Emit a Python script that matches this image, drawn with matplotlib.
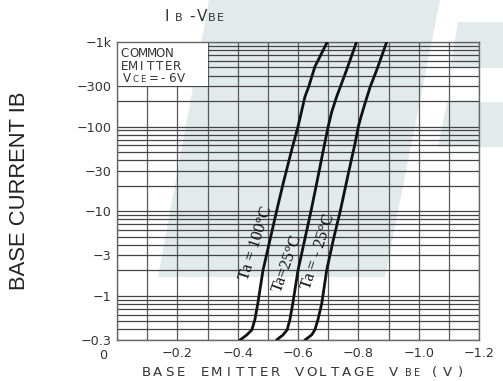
import numpy as np
import matplotlib
matplotlib.use("Agg")
import matplotlib.pyplot as plt
from matplotlib.patches import Polygon, Rectangle

W, H = 503, 381

# base-emitter voltage (V) and base current magnitude for each ambient temp
vbe_100 = [-0.408, -0.430, -0.447, -0.457, -0.467, -0.484, -0.529, -0.551,
           -0.579, -0.600, -0.623, -0.636, -0.656, -0.697]
ib_100 = [0.3, 0.344, 0.395, 0.52, 0.82, 2.0, 10, 21.4, 52.8, 100, 225, 300, 511, 1000]

vbe_25 = [-0.529, -0.550, -0.564, -0.573, -0.583, -0.600, -0.643, -0.662,
          -0.684, -0.700, -0.712, -0.728, -0.741, -0.761, -0.794]
ib_25 = [0.3, 0.344, 0.395, 0.52, 0.82, 2.0, 10, 21.4, 52.8, 100, 150, 225, 300, 467, 1000]

vbe_m25 = [-0.623, -0.645, -0.656, -0.666, -0.679, -0.695, -0.717, -0.740,
           -0.767, -0.789, -0.800, -0.809, -0.822, -0.840, -0.861, -0.894]
ib_m25 = [0.3, 0.344, 0.395, 0.52, 0.82, 2.0, 4.58, 10, 28, 63, 100, 131, 188, 300, 467, 1000]

curve_labels = ["Ta = 100°C", "Ta=25°C", "Ta = - 25°C"]

x_ticks = [-0.2, -0.4, -0.6, -0.8, -1.0, -1.2]
x_tick_labels = ["−0.2", "−0.4", "−0.6", "−0.8", "−1.0", "−1.2"]
y_ticks = [1000, 300, 100, 30, 10, 3, 1, 0.3]
y_tick_labels = ["−1k", "−300", "−100", "−30", "−10", "−3", "−1", "−0.3"]

TXT = "#333333"
WM = "#e2eaec"

fig = plt.figure(figsize=(W / 100, H / 100), dpi=100)
fig.patch.set_facecolor("white")


def px(x, y):
    """pixel coords (origin top-left) -> figure fraction"""
    return x / W, 1 - y / H


# ── watermark logo behind the chart ──────────────────────────────────────────
for verts in ([(209, 0), (440, 0), (385, 277), (158, 277)],
              [(458, 22), (503, 22), (503, 68), (450, 68)],
              [(447, 102), (503, 102), (503, 147), (438, 147)]):
    fig.patches.append(Polygon([px(*v) for v in verts], closed=True,
                               transform=fig.transFigure, facecolor=WM,
                               edgecolor="none", zorder=-5))

ax = fig.add_axes([117 / W, 41 / H, 362 / W, 298 / H])
ax.set_facecolor("none")
ax.set_yscale("log")
ax.set_xlim(0, -1.2)
ax.set_ylim(0.3, 1000)

# grid: every 0.1 V, and 1..9 per decade
grid_v = [-0.1 * i for i in range(13)]
grid_i = [k * 10.0 ** n for n in range(-1, 3) for k in range(1, 10)]
grid_i = [g for g in grid_i if 0.3 <= g <= 1000] + [1000]
ax.vlines(grid_v, 0.3, 1000, colors="#5a5a5a", lw=0.9, zorder=1)
ax.hlines(grid_i, 0, -1.2, colors="#444444", lw=0.9, zorder=1)
ax.add_patch(Rectangle((0, 300), -0.3, 700, facecolor="white",
                       edgecolor="none", zorder=2))

for v, i in ((vbe_100, ib_100), (vbe_25, ib_25), (vbe_m25, ib_m25)):
    ax.plot(v, i, color="#111111", lw=2.0, solid_capstyle="round",
            solid_joinstyle="round", zorder=4)

for lab, (cx, cy), rot in zip(curve_labels,
                              [(256, 243), (287, 263), (318, 252)],
                              [72, 70, 72]):
    fig.text(*px(cx, cy), lab, rotation=rot, ha="center", va="center",
             rotation_mode="anchor", family="Liberation Serif", fontsize=12,
             color="#111111")

for s in ax.spines.values():
    s.set_color("#666666")
    s.set_linewidth(1.0)

ax.set_xticks(x_ticks, x_tick_labels)
ax.set_yticks(y_ticks, y_tick_labels)
ax.yaxis.set_minor_locator(matplotlib.ticker.NullLocator())
ax.tick_params(length=0, labelsize=9.2, labelcolor=TXT, pad=4)
ax.tick_params(axis="x", pad=5)
fig.text(*px(103, 359), "0", ha="center", va="baseline", fontsize=9.2, color=TXT)


def row(x0, y, text, size, adv):
    """draw text one character per fixed-width cell (wide CAD style lettering)"""
    for k, ch in enumerate(text):
        if ch != " ":
            fig.text(*px(x0 + adv * k + adv / 2, y), ch, ha="center",
                     va="baseline", fontsize=size, color=TXT)


# title  IB-VBE
row(161, 21, "I", 11, 11)
row(173, 21, "B", 8, 12)
row(186, 21, "-", 11, 12)
row(196, 21, "V", 11, 12)
row(208, 21, "BE", 8, 8)

# x axis label
row(140, 376, "BASE EMITTER VOLTAGE V", 9.6, 11.8)
row(404, 376, "BE", 7, 9)
row(428, 376, "(V)", 9.6, 13)

# conditions box
row(120, 57, "COMMON", 8.6, 9.0)
row(120, 70, "EMITTER", 8.6, 8.8)
row(122, 82, "V", 8.6, 10)
row(132, 82, "CE", 6.2, 7.5)
row(149, 82, "=-6V", 8.6, 9.2)

fig.text(*px(20, 191), "BASE CURRENT IB", rotation=90, ha="center",
         va="center", family="Liberation Sans", fontsize=15.8, color="#222222")

fig.savefig("out.png", dpi=100)
